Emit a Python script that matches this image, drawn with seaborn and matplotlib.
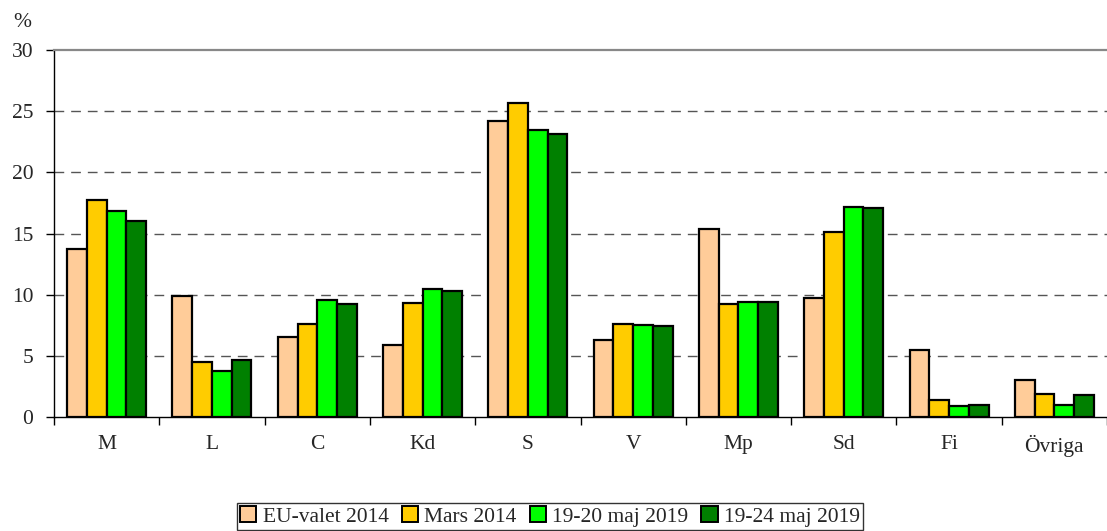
import seaborn as sns
import matplotlib.pyplot as plt
import matplotlib.patches as mpatches
import pandas as pd
import numpy as np

# partier och mätningar
partier = ['M', 'L', 'C', 'Kd', 'S', 'V', 'Mp', 'Sd', 'Fi', 'Övriga']
perioder = ['EU-valet 2014', 'Mars 2014', '19-20 maj 2019', '19-24 maj 2019']

eu_valet_2014 = [13.7, 9.9, 6.5, 5.9, 24.2, 6.3, 15.4, 9.7, 5.5, 3.0]
mars_2014 = [17.7, 4.5, 7.6, 9.3, 25.7, 7.6, 9.2, 15.1, 1.4, 1.9]
maj_19_20 = [16.8, 3.8, 9.6, 10.5, 23.5, 7.5, 9.4, 17.2, 0.9, 1.0]
maj_19_24 = [16.0, 4.7, 9.2, 10.3, 23.1, 7.4, 9.4, 17.1, 1.0, 1.8]

farger = ['#FFCC99', '#FFCC00', '#00FF00', '#008000']

serier = [eu_valet_2014, mars_2014, maj_19_20, maj_19_24]
df = pd.DataFrame({
    'parti': partier * len(perioder),
    'period': np.repeat(perioder, len(partier)),
    'andel': np.concatenate(serier),
})

sns.set_style('white')
plt.rcParams['font.family'] = ['Liberation Serif', 'DejaVu Serif']
fs = 15.5

fig = plt.figure(figsize=(11.07, 5.31), dpi=100)
ax = fig.add_axes([0.0488, 0.2147, 0.9512, 0.6911])

sns.barplot(data=df, x='parti', y='andel', hue='period', order=partier,
            hue_order=perioder, palette=farger, width=0.75,
            edgecolor='black', linewidth=1.6, saturation=1, legend=False, ax=ax)

ax.set_xlim(-0.5, len(partier) - 0.5)
ax.set_ylim(0, 30)
ax.set_yticks(range(0, 31, 5))
ax.set_xlabel('')
ax.set_ylabel('')

# stödlinjer
ax.set_axisbelow(True)
for y in range(5, 30, 5):
    ax.axhline(y, color='#555555', linewidth=1.0, linestyle=(0, (7, 5)), zorder=0)

for s in ['left', 'bottom']:
    ax.spines[s].set_color('black')
    ax.spines[s].set_linewidth(1.0)
ax.spines['right'].set_visible(False)
ax.spines['top'].set_color('#888888')
ax.spines['top'].set_linewidth(1.6)

# streck mellan kategorierna
ax.set_xticks(np.arange(len(partier)))
ax.set_xticklabels(partier)
ax.set_xticks(np.arange(-0.5, len(partier)), minor=True)
ax.tick_params(axis='x', which='major', length=0, pad=13, labelsize=fs)
ax.tick_params(axis='x', which='minor', length=6, width=1, color='black', direction='out', bottom=True)
ax.tick_params(axis='y', length=6, width=1, color='black', direction='out', left=True, labelsize=fs, pad=9)

fig.text(0.012, 0.958, '%', fontsize=fs, ha='left', va='center')

handles = [mpatches.Patch(facecolor=c, edgecolor='black', linewidth=1.4, label=p)
           for c, p in zip(farger, perioder)]
leg = fig.legend(handles=handles, loc='center', bbox_to_anchor=(0.497, 0.027), ncol=4,
                 fontsize=fs, frameon=True, fancybox=False, edgecolor='black',
                 handlelength=0.75, handleheight=0.75, handletextpad=0.3,
                 columnspacing=0.6, borderpad=0.15, borderaxespad=0)
leg.get_frame().set_linewidth(1.0)

fig.savefig('out.png', dpi=100)
